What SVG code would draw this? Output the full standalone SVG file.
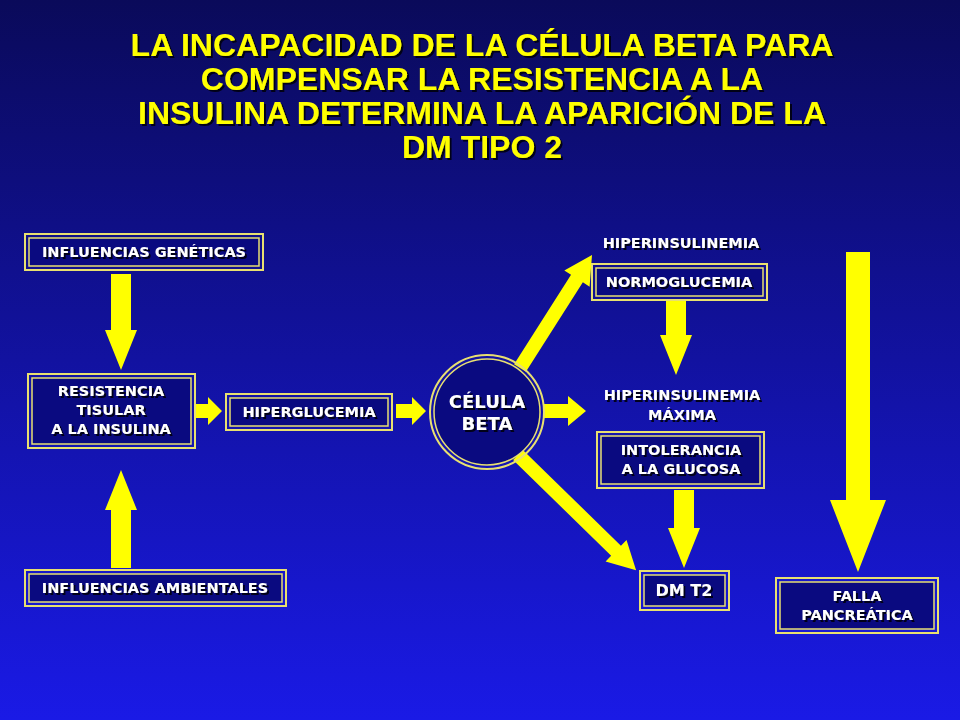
<svg xmlns="http://www.w3.org/2000/svg" width="960" height="720" viewBox="0 0 960 720">
<defs>
<linearGradient id="bg" x1="0" y1="0" x2="0" y2="1"><stop offset="0" stop-color="#0a0a5a"/><stop offset="1" stop-color="#1a1ae6"/></linearGradient>
<filter id="sh" x="-10%" y="-10%" width="120%" height="130%"><feDropShadow dx="2" dy="2" stdDeviation="0.5" flood-color="#000010" flood-opacity="0.9"/></filter>
</defs>
<style>
.o{fill:none;stroke:#e8e070;stroke-width:2}
.i{fill:#0a0a80;stroke:#e8e070;stroke-width:1.5}
.t{font-family:"DejaVu Sans",Verdana,sans-serif;font-weight:bold;font-size:14.5px;fill:#fff;text-anchor:middle;filter:url(#sh)}
.c{font-size:18px}
.ti{font-family:"Liberation Sans",Arial,sans-serif;font-weight:bold;font-size:32px;fill:#ffff00;text-anchor:middle;filter:url(#sh)}
.a{fill:#ffff00}
</style>
<rect width="960" height="720" fill="url(#bg)"/>
<g id="title">
<text class="ti" x="482" y="56">LA INCAPACIDAD DE LA CÉLULA BETA PARA</text>
<text class="ti" x="482" y="90">COMPENSAR LA RESISTENCIA A LA</text>
<text class="ti" x="482" y="124">INSULINA DETERMINA LA APARICIÓN DE LA</text>
<text class="ti" x="482" y="158">DM TIPO 2</text>
</g>
<g id="connectors">
<path class="a" d="M111,274H131V330H137L121,370L105,330H111Z"/>
<path class="a" d="M111,568H131V510H137L121,470L105,510H111Z"/>
<path class="a" d="M195,404H208V397L222,411L208,425V418H195Z"/>
<path class="a" d="M396,404H412V397L426,411L412,425V418H396Z"/>
<path class="a" d="M544,404H568V396L586,411L568,426V418H544Z"/>
<path class="a" d="M666,300H686V335H692L676,375L660,335H666Z"/>
<path class="a" d="M674,490H694V528H700L684,568L668,528H674Z"/>
<path class="a" d="M846,252H870V500H886L858,572L830,500H846Z"/>
<path class="a" transform="translate(520,368) rotate(-57.5)" d="M0,-7L106,-7L106,-15L134,0L106,15L106,7L0,7Z"/>
<path class="a" transform="translate(518,455) rotate(44.3)" d="M0,-7L137,-7L137,-15L165,0L137,15L137,7L0,7Z"/>
</g>
<g id="genet"><rect class="o" x="25" y="234" width="238" height="36"/><rect class="i" x="29" y="238" width="230" height="28"/><text class="t" x="144" y="257">INFLUENCIAS GENÉTICAS</text></g>
<g id="resist"><rect class="o" x="28" y="374" width="167" height="74"/><rect class="i" x="32" y="378" width="159" height="66"/><text class="t" x="111" y="396">RESISTENCIA</text><text class="t" x="111" y="415">TISULAR</text><text class="t" x="111" y="434">A LA INSULINA</text></g>
<g id="hiperg"><rect class="o" x="226" y="394" width="166" height="36"/><rect class="i" x="230" y="398" width="158" height="28"/><text class="t" x="309" y="417">HIPERGLUCEMIA</text></g>
<g id="ambient"><rect class="o" x="25" y="570" width="261" height="36"/><rect class="i" x="29" y="574" width="253" height="28"/><text class="t" x="155" y="593">INFLUENCIAS AMBIENTALES</text></g>
<g id="beta"><circle cx="487" cy="412" r="57" fill="none" stroke="#e8e070" stroke-width="2"/><circle cx="487" cy="412" r="53" fill="#0a0a80" stroke="#e8e070" stroke-width="1.5"/><text class="t c" x="487" y="408">CÉLULA</text><text class="t c" x="487" y="430">BETA</text></g>
<g id="hiper1"><text class="t" x="681" y="248">HIPERINSULINEMIA</text></g>
<g id="normo"><rect class="o" x="592" y="264" width="175" height="36"/><rect class="i" x="596" y="268" width="167" height="28"/><text class="t" x="679" y="287">NORMOGLUCEMIA</text></g>
<g id="hiper2"><text class="t" x="682" y="400">HIPERINSULINEMIA</text><text class="t" x="682" y="420">MÁXIMA</text></g>
<g id="intol"><rect class="o" x="597" y="432" width="167" height="56"/><rect class="i" x="601" y="436" width="159" height="48"/><text class="t" x="681" y="455">INTOLERANCIA</text><text class="t" x="681" y="474">A LA GLUCOSA</text></g>
<g id="dmt2"><rect class="o" x="640" y="571" width="89" height="39"/><rect class="i" x="644" y="575" width="81" height="31"/><text class="t" x="684" y="596" style="font-size:16px">DM T2</text></g>
<g id="falla"><rect class="o" x="776" y="578" width="162" height="55"/><rect class="i" x="780" y="582" width="154" height="47"/><text class="t" x="857" y="601">FALLA</text><text class="t" x="857" y="620">PANCREÁTICA</text></g>
</svg>
